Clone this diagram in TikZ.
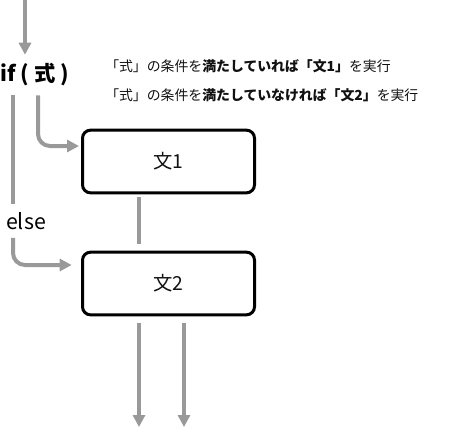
\documentclass[tikz,border=0pt]{standalone}
\usepackage{fontspec}
\setmainfont{Noto Sans CJK JP}
\usetikzlibrary{arrows.meta,positioning}
\definecolor{FlowGray}{HTML}{999999}
\definecolor{BoxText}{HTML}{111111}

\begin{document}
\begin{tikzpicture}[
  x=0.75pt,y=-0.75pt,
  flow/.style={
    -{Triangle[length=9pt,width=9pt]},
    line width=3pt,
    draw=FlowGray
  },
  link/.style={
    line width=3pt,
    draw=FlowGray
  },
  stmtbox/.style={
    rounded corners=6pt,
    line width=2.25pt,
    draw=black,
    fill=white,
    minimum width=129pt,
    minimum height=47pt,
    inner sep=0pt,
    font=\fontsize{14.5}{17}\selectfont,
    text=BoxText
  },
  keyword/.style={
    inner sep=0pt,
    font=\bfseries\fontsize{16}{19}\selectfont,
    text=black
  },
  condnote/.style={
    anchor=west,
    inner sep=0pt,
    font=\fontsize{10.4}{12}\selectfont,
    text=BoxText
  }
]
\useasboundingbox (0,0) rectangle (458,429);

% -------------------------------------------------
% if ( expr ) and its notes
% -------------------------------------------------
\coordinate (entry) at (25,0);
\node[keyword, minimum height=30pt, anchor=west] (ifexpr) at (0,75)
  {if\hspace{3.5pt}(\hspace{4pt}式\hspace{4pt})};

\node[condnote] (noteA) at (105,66)
{「式」の条件を\textbf{満たしていれば「文1」}を実行};
\node[condnote] (noteB) at (105,95)
{「式」の条件を\textbf{満たしていなければ「文2」}を実行};

\draw[flow] (entry) -- (entry |- ifexpr.north);

% -------------------------------------------------
% statements
% -------------------------------------------------
\node[stmtbox] (stmtA) at (168.5,161.5) {文1};
\node[stmtbox] (stmtB) at (168.5,283.5) {文2};

\node[keyword, font=\fontsize{16}{19}\selectfont, minimum height=25pt]
  (elselabel) at (26,221) {else};

% true branch
\draw[flow, rounded corners=9pt]
  (ifexpr.south -| 38,0) |- ([xshift=-1.5pt]stmtA.west |- 0,146);
% false branch
\draw[link] (ifexpr.south -| 13,0) -- (elselabel.north -| 13,0);
\draw[flow, rounded corners=9pt]
  (elselabel.south -| 13,0) |- ([xshift=-7pt]stmtB.west |- 0,265);

\draw[link, shorten <=2pt, shorten >=5pt]
  (stmtA.south -| 139,0) -- (stmtB.north -| 139,0);

% -------------------------------------------------
% exits
% -------------------------------------------------
\coordinate (exitA) at (139,427);
\coordinate (exitB) at (184,427);
\draw[flow, shorten <=5pt] (stmtB.south -| exitA) -- (exitA);
\draw[flow, shorten <=5pt] (stmtB.south -| exitB) -- (exitB);

\end{tikzpicture}
\end{document}
